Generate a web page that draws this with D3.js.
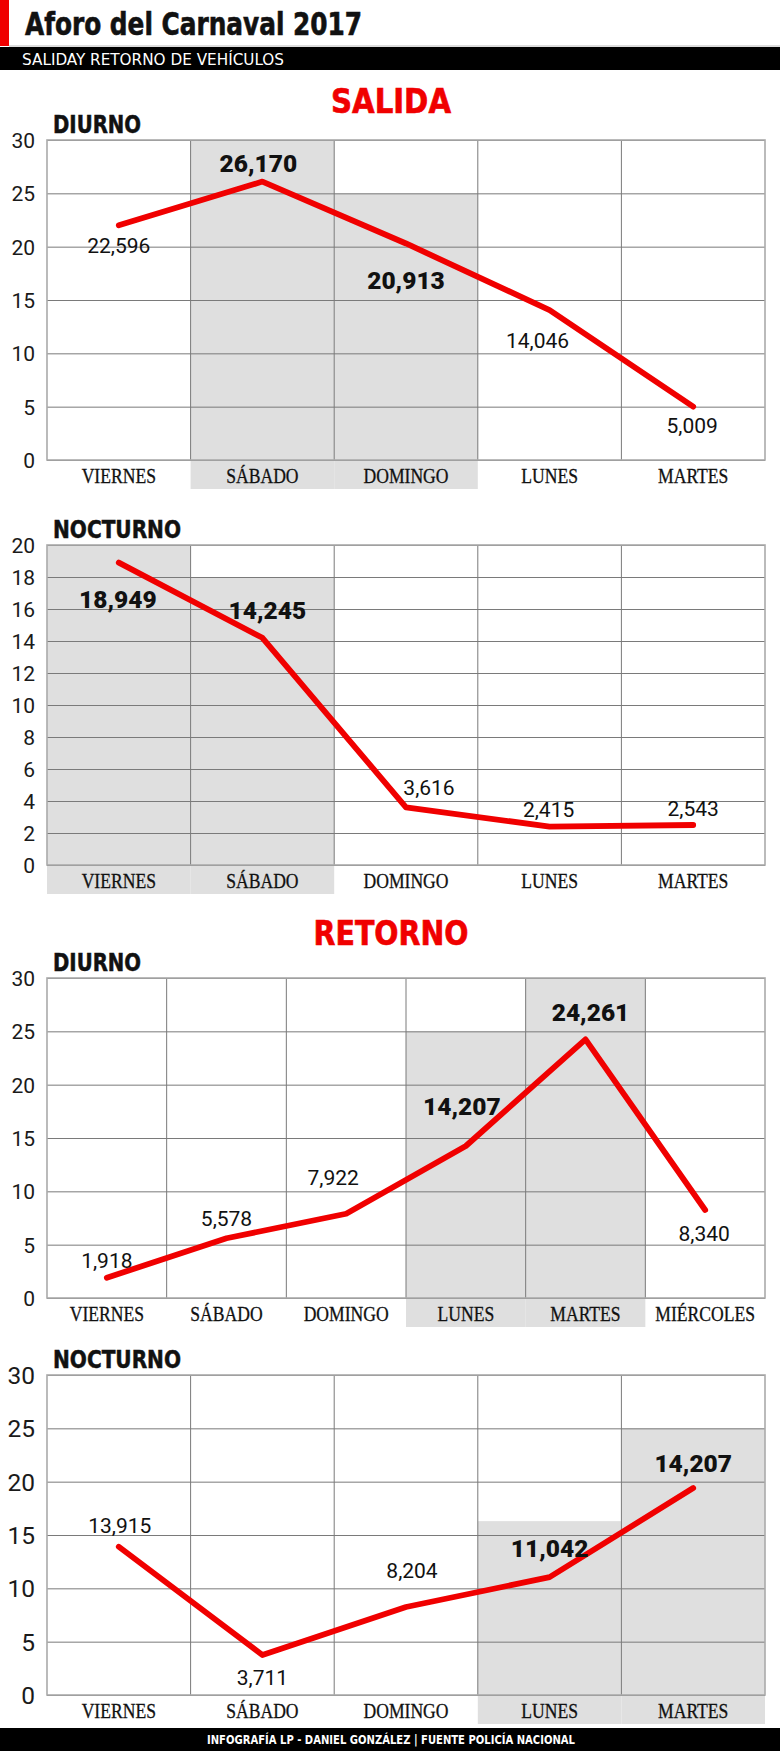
<!DOCTYPE html>
<html><head><meta charset="utf-8">
<script src="https://cdn.jsdelivr.net/npm/d3@7"></script>
<style>
body{margin:0;background:#fff}
svg{display:block}
</style></head><body>
<script>
// ---------- DATA ----------
const daysSalida = ["VIERNES","SÁBADO","DOMINGO","LUNES","MARTES"];
const daysRetornoDiurno = ["VIERNES","SÁBADO","DOMINGO","LUNES","MARTES","MIÉRCOLES"];
const daysRetornoNocturno = ["VIERNES","SÁBADO","DOMINGO","LUNES","MARTES"];

// plotted values (thousands of vehicles, as drawn)
const salidaDiurnoValues = [22.0, 26.1, 20.3, 14.05, 5.0];
const salidaNocturnoValues = [18.9, 14.2, 3.6, 2.4, 2.5];
const retornoDiurnoValues = [1.9, 5.6, 7.9, 14.25, 24.25, 8.25];
const retornoNocturnoValues = [13.9, 3.75, 8.25, 11.05, 19.4];

// printed value labels
const salidaDiurnoLabels = ["22,596","26,170","20,913","14,046","5,009"];
const salidaNocturnoLabels = ["18,949","14,245","3,616","2,415","2,543"];
const retornoDiurnoLabels = ["1,918","5,578","7,922","14,207","24,261","8,340"];
const retornoNocturnoLabels = ["13,915","3,711","8,204","11,042","14,207"];

// highlighted (shaded) columns: top of shading in axis units, null = none
const salidaDiurnoShade = [null, 30, 25, null, null];
const salidaNocturnoShade = [20, 18, null, null, null];
const retornoDiurnoShade = [null, null, null, 25, 30, null];
const retornoNocturnoShade = [null, null, null, 16.3, 25];

const ticks30 = [0,5,10,15,20,25,30];
const ticks20 = [0,2,4,6,8,10,12,14,16,18,20];

// ---------- LAYOUT ----------
const W = 780, H = 1757, L = 47, R = 765, PH = 320;
const RED = "#f00000";
const condensed = "'DejaVu Sans Condensed','DejaVu Sans',sans-serif";

const charts = [
  {title:"DIURNO", days:daysSalida, values:salidaDiurnoValues, labels:salidaDiurnoLabels, shade:salidaDiurnoShade,
   ticks:ticks30, max:30, top:140, titleLen:88, tickSize:21,
   off:[[0,20],[-4,-18],[0,37],[-12,30],[-1,19]]},
  {title:"NOCTURNO", days:daysSalida, values:salidaNocturnoValues, labels:salidaNocturnoLabels, shade:salidaNocturnoShade,
   ticks:ticks20, max:20, top:545, titleLen:128, tickSize:21,
   off:[[-1,37],[5,-28],[23,-20],[-1,-17],[0,-17]]},
  {title:"DIURNO", days:daysRetornoDiurno, values:retornoDiurnoValues, labels:retornoDiurnoLabels, shade:retornoDiurnoShade,
   ticks:ticks30, max:30, top:978, titleLen:88, tickSize:21,
   off:[[0,-17],[0,-20],[-13,-36],[-4,-40],[5,-27],[-1,23]]},
  {title:"NOCTURNO", days:daysRetornoNocturno, values:retornoNocturnoValues, labels:retornoNocturnoLabels, shade:retornoNocturnoShade,
   ticks:ticks30, max:30, top:1375, titleLen:128, tickSize:24.5,
   off:[[1,-21],[0,22],[6,-37],[0,-29],[0,-25]]}
];

const svg = d3.select("body").append("svg").attr("width", W).attr("height", H)
  .attr("viewBox", `0 0 ${W} ${H}`);
svg.append("rect").attr("width", W).attr("height", H).attr("fill", "#fff");

// ---------- HEADER ----------
svg.append("rect").attr("x",0).attr("y",0).attr("width",9).attr("height",46).attr("fill",RED);
svg.append("text").attr("x",25).attr("y",35).text("Aforo del Carnaval 2017")
  .attr("font-family",condensed).attr("font-weight","bold").attr("font-size",32)
  .attr("textLength",337).attr("lengthAdjust","spacingAndGlyphs").attr("fill","#111")
  .attr("stroke","#111").attr("stroke-width",0.6);
svg.append("line").attr("x1",9).attr("x2",W).attr("y1",46).attr("y2",46).attr("stroke","#bbb");
svg.append("rect").attr("x",0).attr("y",47).attr("width",W).attr("height",23).attr("fill","#000");
svg.append("text").attr("x",22).attr("y",65).text("SALIDAY RETORNO DE VEHÍCULOS")
  .attr("font-family",condensed).attr("font-size",15)
  .attr("textLength",262).attr("lengthAdjust","spacingAndGlyphs").attr("fill","#fff");

function sectionTitle(txt, y, len){
  svg.append("text").attr("x",391).attr("y",y).attr("text-anchor","middle").text(txt)
    .attr("font-family",condensed).attr("font-weight","bold").attr("font-size",33)
    .attr("textLength",len).attr("lengthAdjust","spacingAndGlyphs").attr("fill",RED)
    .attr("stroke",RED).attr("stroke-width",0.6);
}
sectionTitle("SALIDA", 113, 120);
sectionTitle("RETORNO", 945, 155);

// ---------- CHARTS ----------
function drawChart(c){
  const x = d3.scaleBand().domain(c.days).range([L, R]).padding(0);
  const y = d3.scaleLinear().domain([0, c.max]).range([c.top + PH, c.top]);
  const g = svg.append("g");
  const bottom = y(0);

  // shading
  const sh = c.days.map((d,i)=>({d, t:c.shade[i]})).filter(o=>o.t!=null);
  g.selectAll("rect.shade").data(sh).join("rect").attr("class","shade")
    .attr("x", o=>x(o.d)).attr("width", x.bandwidth())
    .attr("y", o=>y(o.t)).attr("height", o=>bottom + 29 - y(o.t))
    .attr("fill","#dfdfdf");

  // horizontal grid + y tick labels
  const ya = g.append("g").attr("transform",`translate(${L},0)`)
    .call(d3.axisLeft(y).tickValues(c.ticks).tickSize(-(R-L)).tickPadding(12).tickFormat(d3.format("d")));
  ya.select(".domain").remove();
  ya.selectAll(".tick line").attr("stroke","#7a7a7a").attr("stroke-width",1);
  ya.selectAll(".tick text").attr("font-family","Roboto, sans-serif").attr("font-size",c.tickSize)
    .attr("fill","#1a1a1a").attr("dy","0.35em");

  // vertical column lines
  g.selectAll("line.col").data(c.days.slice(1)).join("line").attr("class","col")
    .attr("x1", d=>x(d)).attr("x2", d=>x(d)).attr("y1", y(c.max)).attr("y2", bottom)
    .attr("stroke","#7a7a7a").attr("stroke-width",1);

  // outer border
  g.append("rect").attr("x",L).attr("y",y(c.max)).attr("width",R-L).attr("height",PH)
    .attr("fill","none").attr("stroke","#aaaaaa").attr("stroke-width",1.6);

  // category labels
  const xa = g.append("g").attr("transform",`translate(0,${bottom})`)
    .call(d3.axisBottom(x).tickSize(0).tickPadding(0));
  xa.select(".domain").remove();
  xa.selectAll(".tick text").attr("font-family","'Liberation Serif', serif").attr("font-size",20)
    .attr("fill","#111").attr("stroke","#111").attr("stroke-width",0.3)
    .attr("y",23).attr("dy",0).attr("transform","scale(0.88,1)");

  // title
  g.append("text").attr("x",53).attr("y",c.top - 7).text(c.title)
    .attr("font-family",condensed).attr("font-weight","bold").attr("font-size",25)
    .attr("textLength",c.titleLen).attr("lengthAdjust","spacingAndGlyphs").attr("fill","#111")
    .attr("stroke","#111").attr("stroke-width",0.5);

  // line
  const pts = c.days.map((d,i)=>({d, v:c.values[i], lab:c.labels[i], hi:c.shade[i]!=null, off:c.off[i]}));
  const line = d3.line().x(p=>x(p.d)+x.bandwidth()/2).y(p=>y(p.v));
  g.append("path").datum(pts).attr("d",line).attr("fill","none").attr("stroke",RED)
    .attr("stroke-width",5.8).attr("stroke-linejoin","round").attr("stroke-linecap","round");

  // value labels
  g.selectAll("text.val").data(pts).join("text").attr("class","val")
    .attr("x", p=>x(p.d)+x.bandwidth()/2 + p.off[0])
    .attr("y", p=>y(p.v) + p.off[1] + (p.hi ? 8.7 : 7.5))
    .attr("text-anchor","middle")
    .attr("font-family","Roboto, sans-serif")
    .attr("font-weight", p=>p.hi ? 900 : 400)
    .attr("font-size", p=>p.hi ? 24.5 : 21)
    .attr("fill","#111")
    .text(p=>p.lab);
}
charts.forEach(drawChart);

// ---------- FOOTER ----------
svg.append("rect").attr("x",0).attr("y",1728).attr("width",W).attr("height",23).attr("fill","#000");
svg.append("text").attr("x",391).attr("y",1743.5).attr("text-anchor","middle")
  .text("INFOGRAFÍA LP -  DANIEL GONZÁLEZ | FUENTE POLICÍA NACIONAL")
  .attr("font-family",condensed).attr("font-weight","bold").attr("font-size",11.5)
  .attr("textLength",368).attr("lengthAdjust","spacingAndGlyphs").attr("fill","#fff");
</script>
</body></html>
